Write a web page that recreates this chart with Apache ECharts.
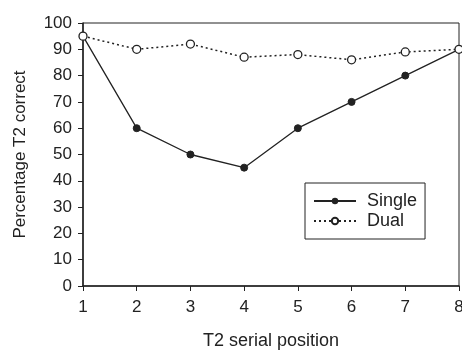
<!DOCTYPE html>
<html><head><meta charset="utf-8">
<script src="https://cdn.jsdelivr.net/npm/echarts@6/dist/echarts.min.js"></script>
<style>html,body{margin:0;padding:0;background:#fff}#c{width:462px;height:351px}</style>
</head><body><div id="c"></div>
<script>
const categories = ['1','2','3','4','5','6','7','8'];
const singleValues = [95, 60, 50, 45, 60, 70, 80, 90];
const dualValues = [95, 90, 92, 87, 88, 86, 89, 90];
const yTicks = [0, 10, 20, 30, 40, 50, 60, 70, 80, 90, 100];

const font = 'Liberation Sans, Arial, sans-serif';
const ink = '#222';
const chart = echarts.init(document.getElementById('c'));
chart.setOption({
  backgroundColor: '#fff',
  animation: false,
  grid: {left: 83, right: 3, top: 23, bottom: 65, outerBoundsMode: 'none', containLabel: false,
         show: true, borderColor: ink, borderWidth: 1, backgroundColor: 'transparent'},
  legend: {
    left: 305, top: 183, orient: 'vertical',
    padding: [9, 8, 9, 8], itemGap: 2, itemWidth: 42, itemHeight: 8,
    borderColor: ink, borderWidth: 1, backgroundColor: '#fff',
    textStyle: {fontFamily: font, fontSize: 18, color: ink, padding: [0, 0, 0, 6]},
    data: ['Single', 'Dual']
  },
  xAxis: {
    type: 'category', data: categories, boundaryGap: false,
    name: 'T2 serial position', nameLocation: 'middle', nameGap: 46,
    nameTextStyle: {fontFamily: font, fontSize: 18, color: ink},
    axisLine: {lineStyle: {color: ink, width: 1.5}},
    axisTick: {show: true, alignWithLabel: true, length: 5, lineStyle: {color: ink}},
    axisLabel: {fontFamily: font, fontSize: 17, color: ink, margin: 13, interval: 0},
    splitLine: {show: false}
  },
  yAxis: {
    type: 'value', min: yTicks[0], max: yTicks[yTicks.length - 1], interval: 10,
    name: 'Percentage T2 correct', nameLocation: 'middle', nameGap: 54, nameRotate: 90,
    nameTextStyle: {fontFamily: font, fontSize: 17, color: ink},
    axisLine: {show: true, lineStyle: {color: ink, width: 1.5}},
    axisTick: {show: true, length: 5, lineStyle: {color: ink}},
    axisLabel: {fontFamily: font, fontSize: 17, color: ink, margin: 11},
    splitLine: {show: false}
  },
  series: [
    {name: 'Single', type: 'line', data: singleValues, symbol: 'circle', symbolSize: 7, z: 2,
     lineStyle: {color: ink, width: 1.3}, itemStyle: {color: ink, borderColor: ink}},
    {name: 'Dual', type: 'line', data: dualValues, symbol: 'circle', symbolSize: 8, z: 3,
     lineStyle: {color: ink, width: 1.5, type: [2, 3]}, itemStyle: {color: '#fff', borderColor: ink, borderWidth: 1.3}}
  ]
});
</script></body></html>
